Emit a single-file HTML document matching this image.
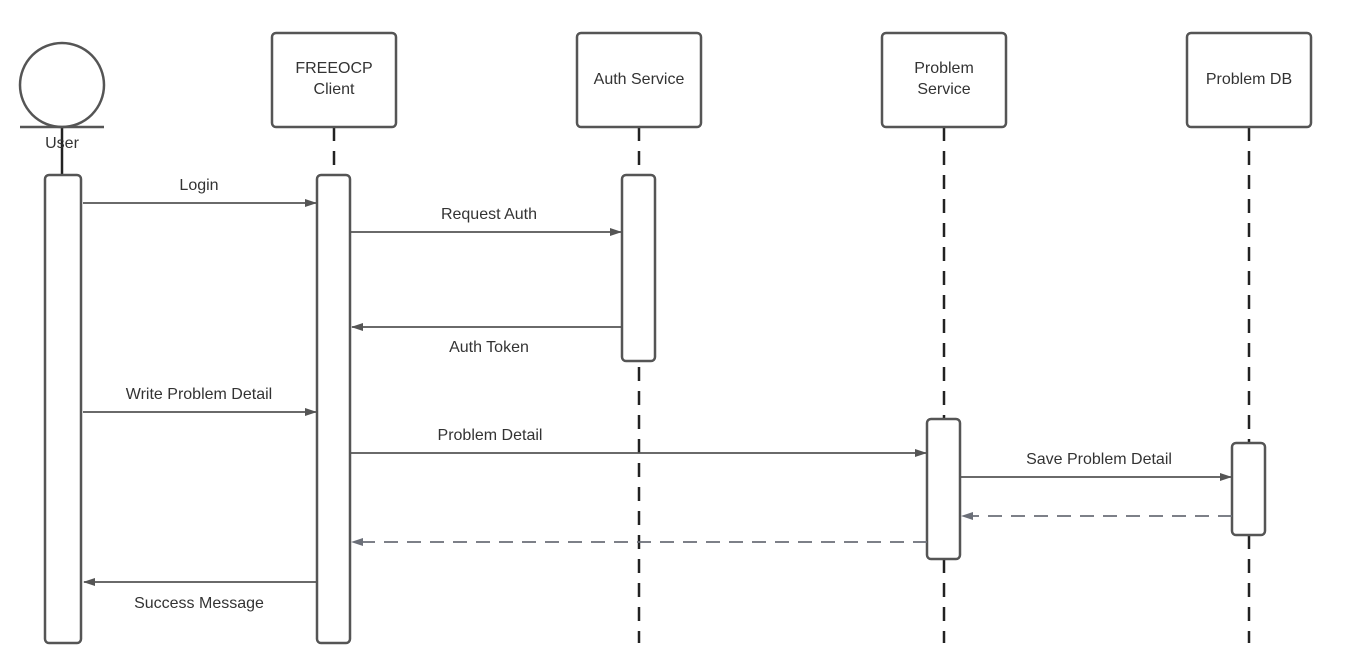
<!DOCTYPE html>
<html><head><meta charset="utf-8"><style>
html,body{margin:0;padding:0;background:#fff;}
svg{display:block;}
text{font-family:"Liberation Sans",sans-serif;font-size:16px;fill:#333;text-anchor:middle;}
</style></head><body>
<svg width="1347" height="670" viewBox="0 0 1347 670" xmlns="http://www.w3.org/2000/svg">
<defs>
<marker id="a" markerWidth="12" markerHeight="10" refX="11" refY="5" orient="auto" markerUnits="userSpaceOnUse"><path d="M0,1 L12,5 L0,9 Z" fill="#555"/></marker>
<marker id="b" markerWidth="12" markerHeight="10" refX="11" refY="5" orient="auto" markerUnits="userSpaceOnUse"><path d="M0,1 L12,5 L0,9 Z" fill="#6b6f78"/></marker>
</defs>
<g stroke="#222" stroke-width="2.5" stroke-dasharray="14,10" fill="none">
<line x1="334" y1="127" x2="334" y2="643"/>
<line x1="639" y1="127" x2="639" y2="643"/>
<line x1="944" y1="127" x2="944" y2="643"/>
<line x1="1249" y1="127" x2="1249" y2="643"/>
</g>
<line x1="62" y1="127" x2="62" y2="175" stroke="#222" stroke-width="2.5"/>
<g stroke="#555" stroke-width="2.5" fill="#fff">
<circle cx="62" cy="85" r="42"/>
<line x1="20" y1="127" x2="104" y2="127"/>
<rect x="272" y="33" width="124" height="94" rx="4"/>
<rect x="577" y="33" width="124" height="94" rx="4"/>
<rect x="882" y="33" width="124" height="94" rx="4"/>
<rect x="1187" y="33" width="124" height="94" rx="4"/>
<rect x="45" y="175" width="36" height="468" rx="4"/>
<rect x="317" y="175" width="33" height="468" rx="4"/>
<rect x="622" y="175" width="33" height="186" rx="4"/>
<rect x="927" y="419" width="33" height="140" rx="4"/>
<rect x="1232" y="443" width="33" height="92" rx="4"/>
</g>
<text x="62" y="148">User</text>
<text x="334" y="73">FREEOCP</text>
<text x="334" y="94">Client</text>
<text x="639" y="84">Auth Service</text>
<text x="944" y="73">Problem</text>
<text x="944" y="94">Service</text>
<text x="1249" y="84">Problem DB</text>
<g stroke="#555" stroke-width="1.8" fill="none" marker-end="url(#a)">
<line x1="83" y1="203" x2="316" y2="203"/>
<line x1="351" y1="232" x2="621" y2="232"/>
<line x1="622" y1="327" x2="352" y2="327"/>
<line x1="83" y1="412" x2="316" y2="412"/>
<line x1="351" y1="453" x2="926" y2="453"/>
<line x1="961" y1="477" x2="1231" y2="477"/>
<line x1="317" y1="582" x2="84" y2="582"/>
</g>
<g stroke="#6b6f78" stroke-width="1.8" fill="none" stroke-dasharray="14,9" marker-end="url(#b)">
<line x1="1232" y1="516" x2="962" y2="516"/>
<line x1="927" y1="542" x2="352" y2="542"/>
</g>
<text x="199" y="190">Login</text>
<text x="489" y="219">Request Auth</text>
<text x="489" y="352">Auth Token</text>
<text x="199" y="399">Write Problem Detail</text>
<text x="490" y="440">Problem Detail</text>
<text x="1099" y="464">Save Problem Detail</text>
<text x="199" y="608">Success Message</text>
</svg>
</body></html>
